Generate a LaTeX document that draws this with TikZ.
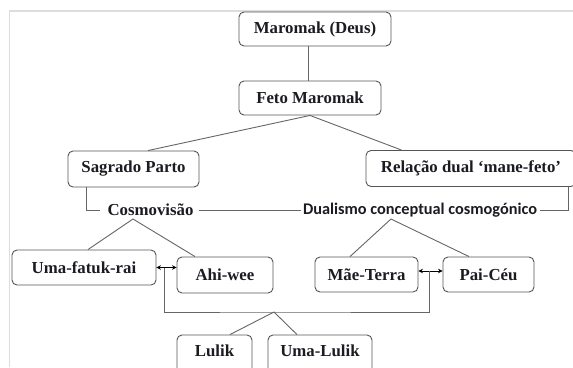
\documentclass[tikz,border=0pt]{standalone}
\usepackage{fontspec}
\setmainfont{Liberation Serif}
\newfontfamily\tnrb{Liberation Serif Bold}
\newfontfamily\calfont{Carlito}[BoldFont={Carlito Bold}]
\usetikzlibrary{arrows.meta,calc}
\definecolor{boxgray}{HTML}{555555}
\definecolor{linegray}{HTML}{666666}
\definecolor{framegray}{HTML}{DDDDDD}
\definecolor{txt}{HTML}{1B1B22}
\begin{document}
\begin{tikzpicture}[x=1pt,y=-1pt,
  box/.style={draw=boxgray, line width=0.9pt, rounded corners=5pt, fill=white,
    minimum width=#1, minimum height=35pt, inner sep=0pt,
    font=\tnrb\fontsize{16.8}{20}\selectfont, text=txt},
  lbl/.style={inner sep=0pt, font=\tnrb\fontsize{16.8}{20}\selectfont, text=txt},
  clbl/.style={inner sep=0pt, font=\calfont\bfseries\fontsize{16.3}{20}\selectfont, text=txt},
  conn/.style={draw=linegray, line width=0.9pt},
  dbl/.style={line width=0.8pt, black, {Stealth[length=4.5pt,width=4.5pt]}-{Stealth[length=4.5pt,width=4.5pt]}}
]
\useasboundingbox (0,0) rectangle (573,367);
\clip (0,0) rectangle (573,367);
\fill[white] (0,0) rectangle (573,367);
% frame
\draw[framegray, line width=1.5pt] (9.5,367) -- (9.5,11) -- (573,11);

% nodes
\node[box=152, minimum height=34pt] (maromak) at (315,29) {Maromak (Deus)};
\node[box=142, minimum height=34pt] (feto) at (310,98) {Feto Maromak};
\node[box=131, minimum height=36pt] (sag) at (133.5,169) {Sagrado Parto};
\node[box=210, minimum height=36pt] (rel) at (471,168.5) {Relação dual ‘mane-feto’};
\node[lbl] (cosmo) at (150.5,210) {Cosmovisão};
\node[clbl] (dual) at (420,210) {Dualismo conceptual cosmogónico};
\node[box=144, minimum height=35pt] (uma) at (84,267.5) {Uma-fatuk-rai};
\node[box=96, minimum height=36pt] (ahi) at (225,275) {Ahi-wee};
\node[box=103, minimum height=35pt] (mae) at (366.5,274.5) {Mãe-Terra};
\node[box=91, minimum height=35pt] (pai) at (488.5,274.5) {Pai-Céu};
\node[box=75, minimum height=40pt, text depth=0pt] (lulik) at (214.5,355) {\raisebox{8pt}{Lulik}};
\node[box=104, minimum height=40pt, text depth=0pt] (ulu) at (320,355) {\raisebox{8pt}{Uma-Lulik}};

% connectors
\draw[conn] (maromak.south -| feto.north) ++(-2,0) coordinate (m1) -- (m1 |- feto.north);
\draw[conn] (feto.south) -- ($(sag.north)+(14.5,0)$);
\draw[conn] (feto.south) -- ($(rel.north west)+(36,0)$);
\draw[conn] ($(sag.south west)+(19,0)$) |- ($(cosmo.west)+(-7,0)$);
\draw[conn] ($(cosmo.east)+(5,0)$) -- ($(dual.west)+(-2,0)$);
\draw[conn] ($(dual.east)+(3,0)$) -| ($(rel.south east)+(-8,0)$);
\coordinate (cj) at ($(cosmo.center)+(-17.5,9)$);
\coordinate (dj) at ($(dual.center)+(-29,9)$);
\draw[conn] ($(uma.north)+(4,0)$) -- (cj) -- ($(ahi.north)+(-30,0)$);
\draw[conn] ($(mae.north)+(-16.5,0)$) -- (dj) -- ($(pai.north)+(-19.5,0)$);

% double arrows
\draw[dbl] (uma.east) -- (uma.east -| ahi.west);
\coordinate (me) at ($(mae.east)+(0,-3.5)$);
\draw[dbl] (me) -- (me -| pai.west);

% bracket
\coordinate (bl) at ($(uma.east)+(8,0)$);
\coordinate (br) at ($(me)+(11,0)$);
\coordinate (bj) at (274,312);
\draw[conn] (bl) |- (bj) -| (br);
\draw[conn] ($(lulik.north)+(15.5,0)$) -- (bj) -- ($(ulu.north)+(-23,0)$);
\end{tikzpicture}
\end{document}
